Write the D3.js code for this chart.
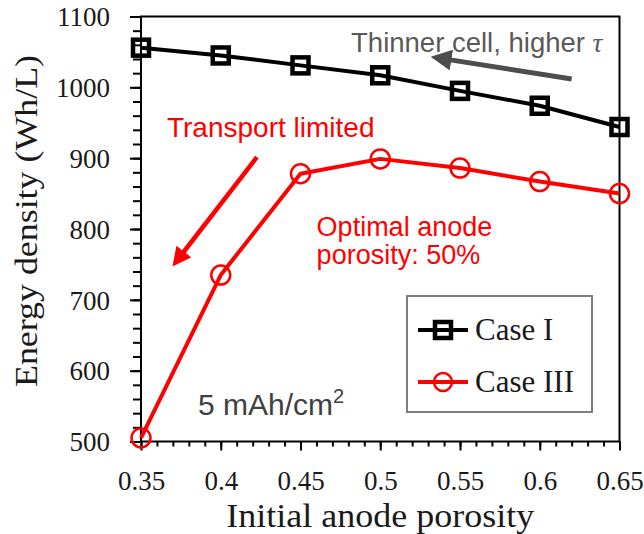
<!DOCTYPE html>
<html>
<head>
<meta charset="utf-8">
<script src="https://cdn.jsdelivr.net/npm/d3@7"></script>
<style>
  html, body { margin: 0; padding: 0; background: #fff; }
  svg { display: block; }
</style>
</head>
<body>
<svg id="chart" width="644" height="534"></svg>
<script>
// Anode porosity sweep: energy density for two cell cases
const porosity = [0.35, 0.40, 0.45, 0.50, 0.55, 0.60, 0.65];
const caseI   = [1056, 1045, 1031, 1017, 995, 974, 944];
const caseIII = [505, 735, 878, 899, 886, 867, 850];
const seriesNames = ["Case I", "Case III"];

const xTicks = [0.35, 0.40, 0.45, 0.50, 0.55, 0.60, 0.65];
const xTickLabels = ["0.35", "0.4", "0.45", "0.5", "0.55", "0.6", "0.65"];
const yTicks = [500, 600, 700, 800, 900, 1000, 1100];

const W = 644, H = 534;
const m = { left: 141, right: 24.5, top: 16.5, bottom: 92.5 };

const svg = d3.select("#chart");
const x = d3.scaleLinear().domain([0.35, 0.65]).range([m.left, W - m.right]);
const y = d3.scaleLinear().domain([500, 1100]).range([H - m.bottom, m.top]);

const serif = "'Liberation Serif', 'Times New Roman', serif";
const sans = "'Liberation Sans', Arial, sans-serif";

// frame
svg.append("rect")
  .attr("x", x(0.35)).attr("y", y(1100))
  .attr("width", x(0.65) - x(0.35)).attr("height", y(500) - y(1100))
  .attr("fill", "none").attr("stroke", "#000").attr("stroke-width", 2);

// x axis: major and minor ticks pointing down
const xMinor = d3.range(35, 66).map(v => v / 100);
const gx = svg.append("g").attr("transform", `translate(0,${y(500)})`);
gx.call(d3.axisBottom(x).tickValues(xMinor).tickSize(5).tickFormat(""));
gx.append("g").call(d3.axisBottom(x).tickValues(xTicks).tickSize(9)
  .tickFormat((d, i) => xTickLabels[i]));
gx.selectAll(".domain").remove();
gx.selectAll("line").attr("stroke", "#000").attr("stroke-width", 2);
gx.selectAll("text")
  .attr("font-family", serif).attr("font-size", 27).attr("fill", "#1a1a1a")
  .attr("y", 0).attr("dy", 0)
  .attr("transform", "translate(0,48)");

// y axis: major and minor ticks pointing left
const yMinor = d3.range(500, 1101, 20);
const gy = svg.append("g").attr("transform", `translate(${x(0.35)},0)`);
gy.call(d3.axisLeft(y).tickValues(yMinor).tickSize(8).tickFormat(""));
gy.append("g").call(d3.axisLeft(y).tickValues(yTicks).tickSize(11).tickFormat(d3.format("d")));
gy.selectAll(".domain").remove();
gy.selectAll("line").attr("stroke", "#000").attr("stroke-width", 2);
gy.selectAll("text")
  .attr("font-family", serif).attr("font-size", 27).attr("fill", "#1a1a1a")
  .attr("x", -31).attr("dy", "0.34em");

// axis titles
svg.append("text")
  .attr("x", (x(0.35) + x(0.65)) / 2).attr("y", 527)
  .attr("text-anchor", "middle")
  .attr("font-family", serif).attr("font-size", 34).attr("fill", "#1a1a1a")
  .attr("textLength", 308).attr("lengthAdjust", "spacingAndGlyphs")
  .text("Initial anode porosity");
svg.append("text")
  .attr("transform", "translate(37,221) rotate(-90)")
  .attr("text-anchor", "middle")
  .attr("font-family", serif).attr("font-size", 32).attr("fill", "#1a1a1a")
  .attr("textLength", 332).attr("lengthAdjust", "spacingAndGlyphs")
  .text("Energy density (Wh/L)");

// series
const line = d3.line().x((d, i) => x(porosity[i])).y(d => y(d));

svg.append("path").datum(caseIII)
  .attr("d", line).attr("fill", "none")
  .attr("stroke", "#ff0000").attr("stroke-width", 4).attr("stroke-linejoin", "round");
svg.append("g").selectAll("circle").data(caseIII).join("circle")
  .attr("cx", (d, i) => x(porosity[i])).attr("cy", d => y(d)).attr("r", 9.5)
  .attr("fill", "none").attr("stroke", "#ff0000").attr("stroke-width", 2.5);

svg.append("path").datum(caseI)
  .attr("d", line).attr("fill", "none")
  .attr("stroke", "#000").attr("stroke-width", 4).attr("stroke-linejoin", "round");
svg.append("g").selectAll("rect").data(caseI).join("rect")
  .attr("x", (d, i) => x(porosity[i]) - 8).attr("y", d => y(d) - 8)
  .attr("width", 16).attr("height", 16)
  .attr("fill", "none").attr("stroke", "#000").attr("stroke-width", 4.5);

// arrow heads
const defs = svg.append("defs");
function head(id, color) {
  defs.append("marker").attr("id", id)
    .attr("viewBox", "0 0 10 10").attr("refX", 2).attr("refY", 5)
    .attr("markerWidth", 4.2).attr("markerHeight", 4.2)
    .attr("orient", "auto")
    .append("path").attr("d", "M0,0 L10,5 L0,10 Z").attr("fill", color);
}
head("grayHead", "#4d4d4d");
head("redHead", "#ff0000");

// "Thinner cell" annotation
svg.append("line")
  .attr("x1", x(0.620)).attr("y1", y(1011.8))
  .attr("x2", x(0.542)).attr("y2", y(1039.5))
  .attr("stroke", "#4d4d4d").attr("stroke-width", 5)
  .attr("marker-end", "url(#grayHead)");
const t1 = svg.append("text")
  .attr("x", x(0.4817)).attr("y", y(1050))
  .attr("font-family", sans).attr("font-size", 27.5).attr("fill", "#595959");
t1.append("tspan").text("Thinner cell, higher ");
t1.append("tspan").attr("font-family", serif).attr("font-style", "italic").text("τ");

// "Transport limited" annotation
svg.append("text")
  .attr("x", x(0.3663)).attr("y", y(930))
  .attr("font-family", sans).attr("font-size", 28).attr("fill", "#ff0000")
  .text("Transport limited");
svg.append("line")
  .attr("x1", x(0.4227)).attr("y1", y(901.6))
  .attr("x2", x(0.3755)).attr("y2", y(764))
  .attr("stroke", "#ff0000").attr("stroke-width", 4.5)
  .attr("marker-end", "url(#redHead)");

// optimum note
const t2 = svg.append("text")
  .attr("font-family", sans).attr("font-size", 27).attr("fill", "#ff0000");
t2.append("tspan").attr("x", x(0.4601)).attr("y", y(790)).text("Optimal anode");
t2.append("tspan").attr("x", x(0.4601)).attr("y", y(750)).text("porosity: 50%");

// loading note
const t3 = svg.append("text")
  .attr("x", x(0.3857)).attr("y", y(537))
  .attr("font-family", sans).attr("font-size", 30).attr("fill", "#404040");
t3.append("tspan").text("5 mAh/cm");
t3.append("tspan").attr("font-size", 20).attr("dy", -12).text("2");

// legend
const lg = svg.append("g");
lg.append("rect").attr("x", 407).attr("y", 296).attr("width", 185).attr("height", 116)
  .attr("fill", "#fff").attr("stroke", "#7f7f7f").attr("stroke-width", 2);
const rows = [
  { name: seriesNames[0], color: "#000", cy: 330, shape: "square" },
  { name: seriesNames[1], color: "#ff0000", cy: 382, shape: "circle" }
];
rows.forEach(r => {
  lg.append("line").attr("x1", 418).attr("x2", 468).attr("y1", r.cy).attr("y2", r.cy)
    .attr("stroke", r.color).attr("stroke-width", 4);
  if (r.shape === "square") {
    lg.append("rect").attr("x", 443 - 8).attr("y", r.cy - 8).attr("width", 16).attr("height", 16)
      .attr("fill", "none").attr("stroke", r.color).attr("stroke-width", 4.5);
  } else {
    lg.append("circle").attr("cx", 443).attr("cy", r.cy).attr("r", 9)
      .attr("fill", "none").attr("stroke", r.color).attr("stroke-width", 2.5);
  }
  lg.append("text").attr("x", 475).attr("y", r.cy + 10)
    .attr("font-family", serif).attr("font-size", 31).attr("fill", "#1a1a1a")
    .text(r.name);
});
</script>
</body>
</html>
